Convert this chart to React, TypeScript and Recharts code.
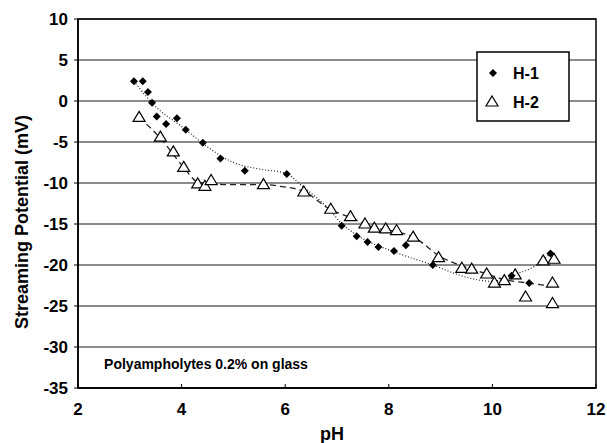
import React from 'react';
import {
  ComposedChart,
  Line,
  Scatter,
  XAxis,
  YAxis,
  CartesianGrid,
  ReferenceArea,
} from 'recharts';

// measured points
const h1Ph = [3.08, 3.25, 3.35, 3.43, 3.52, 3.7, 3.91, 4.08, 4.41, 4.75, 5.22, 6.03, 7.09, 7.38, 7.59, 7.8, 8.1, 8.33, 8.85, 10.37, 10.71, 11.12];
const h1Mv = [2.4, 2.4, 1.1, -0.2, -1.9, -2.8, -2.1, -3.5, -5.1, -7.0, -8.5, -8.9, -15.2, -16.5, -17.2, -17.8, -18.3, -17.6, -20.0, -21.3, -22.2, -18.6];

const h2Ph = [3.18, 3.59, 3.84, 4.04, 4.31, 4.45, 4.57, 5.58, 6.36, 6.88, 7.26, 7.54, 7.72, 7.94, 8.15, 8.47, 8.96, 9.41, 9.6, 9.89, 10.04, 10.23, 10.44, 10.64, 10.98, 11.19, 11.16, 11.16];
const h2Mv = [-2.0, -4.4, -6.2, -8.1, -10.1, -10.4, -9.7, -10.2, -11.1, -13.2, -14.1, -15.0, -15.5, -15.6, -15.8, -16.6, -19.1, -20.4, -20.5, -21.1, -22.2, -21.9, -21.2, -23.9, -19.5, -19.3, -22.2, -24.7];

// trend lines
const h1TrendPh = [3.08, 3.5, 4.0, 4.5, 5.0, 5.5, 6.0, 6.35, 6.8, 7.1, 7.4, 8.15, 8.85, 9.5, 10.0, 10.4, 10.8, 11.12];
const h1TrendMv = [2.4, -0.7, -3.1, -5.6, -7.5, -8.3, -8.8, -10.5, -12.9, -15.0, -16.4, -18.5, -20.0, -21.5, -22.0, -21.2, -20.2, -18.6];

const h2TrendPh = [3.18, 3.6, 4.03, 4.32, 4.6, 5.0, 5.6, 5.9, 6.38, 6.86, 7.26, 7.7, 8.2, 8.5, 9.0, 9.5, 9.9, 10.25, 10.7, 11.16];
const h2TrendMv = [-2.0, -4.6, -8.0, -9.9, -10.1, -10.2, -10.2, -10.4, -11.1, -13.2, -14.2, -15.4, -16.0, -16.7, -19.0, -20.3, -21.1, -21.8, -22.2, -22.6];

const xTicks = [2, 4, 6, 8, 10, 12];
const yTicks = [-35, -30, -25, -20, -15, -10, -5, 0, 5, 10];

const pairs = (xs: number[], ys: number[]) => xs.map((x, i) => ({ x, y: ys[i] }));

const h1Points = pairs(h1Ph, h1Mv);
const h2Points = pairs(h2Ph, h2Mv);
const h1Trend = pairs(h1TrendPh, h1TrendMv);
const h2Trend = pairs(h2TrendPh, h2TrendMv);

const FONT = '"Liberation Sans", Arial, sans-serif';

const Diamond = (props: any) => {
  const { cx, cy } = props;
  const r = 4;
  return <polygon points={`${cx},${cy - r} ${cx + r},${cy} ${cx},${cy + r} ${cx - r},${cy}`} fill="#000" />;
};

const Triangle = (props: any) => {
  const { cx, cy } = props;
  return (
    <polygon
      points={`${cx},${cy - 6} ${cx + 6},${cy + 4} ${cx - 6},${cy + 4}`}
      fill="#fff"
      stroke="#000"
      strokeWidth={1.2}
    />
  );
};

const tickStyle = { fill: '#000', fontSize: 17, fontWeight: 700, fontFamily: FONT };

export default function App() {
  return (
    <div style={{ position: 'absolute', left: 0, top: 0, background: '#fff' }}>
      <ComposedChart width={607} height={443} margin={{ top: 19, right: 11, bottom: 25, left: 0 }}>
        <CartesianGrid horizontal vertical={false} stroke="#666" strokeWidth={1.4} />
        <XAxis
          type="number"
          dataKey="x"
          domain={[2, 12]}
          ticks={xTicks}
          interval={0}
          allowDataOverflow
          height={30}
          tick={tickStyle}
          tickSize={-4}
          tickMargin={19}
          axisLine={{ stroke: '#000', strokeWidth: 1.5 }}
          tickLine={{ stroke: '#000' }}
        />
        <YAxis
          type="number"
          dataKey="y"
          domain={[-35, 10]}
          ticks={yTicks}
          interval={0}
          allowDataOverflow
          width={78}
          tick={tickStyle}
          tickSize={4}
          tickMargin={6}
          axisLine={{ stroke: '#000', strokeWidth: 1.5 }}
          tickLine={{ stroke: '#000' }}
        />
        <ReferenceArea x1={2} x2={12} y1={-35} y2={10} fill="none" stroke="#000" strokeWidth={1.5} ifOverflow="visible" />
        <Line
          data={h1Trend}
          dataKey="y"
          type="monotone"
          stroke="#222"
          strokeWidth={1.2}
          strokeDasharray="1 2"
          dot={false}
          activeDot={false}
          isAnimationActive={false}
        />
        <Line
          data={h2Trend}
          dataKey="y"
          type="monotone"
          stroke="#222"
          strokeWidth={1.3}
          strokeDasharray="6 4"
          dot={false}
          activeDot={false}
          isAnimationActive={false}
        />
        <Scatter data={h2Points} dataKey="y" shape={<Triangle />} isAnimationActive={false} />
        <Scatter data={h1Points} dataKey="y" shape={<Diamond />} isAnimationActive={false} />

        <text x={206} y={369} textAnchor="middle" fontFamily={FONT} fontWeight={700} fontSize={14} fill="#000">
          Polyampholytes 0.2% on glass
        </text>
        <text
          x={22}
          y={222}
          transform="rotate(-90 22 222)"
          textAnchor="middle"
          dominantBaseline="central"
          fontFamily={FONT}
          fontWeight={700}
          fontSize={18}
          fill="#000"
        >
          Streaming Potential (mV)
        </text>
        <text x={332} y={440} textAnchor="middle" fontFamily={FONT} fontWeight={700} fontSize={18} fill="#000">
          pH
        </text>

        <g>
          <rect x={477} y={52} width={92} height={69} fill="#fff" stroke="#000" strokeWidth={1.5} />
          <Diamond cx={493} cy={73} />
          <text x={513} y={79} fontFamily={FONT} fontWeight={700} fontSize={16} fill="#000">H-1</text>
          <Triangle cx={492} cy={102} />
          <text x={513} y={108} fontFamily={FONT} fontWeight={700} fontSize={16} fill="#000">H-2</text>
        </g>
      </ComposedChart>
    </div>
  );
}
